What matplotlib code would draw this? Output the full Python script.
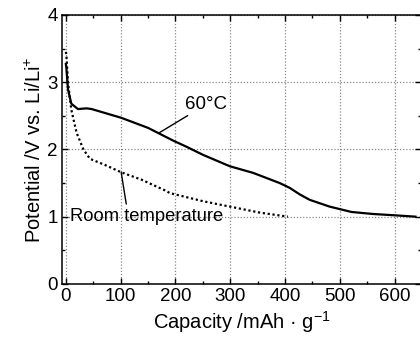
import numpy as np
import matplotlib
matplotlib.use('Agg')
import matplotlib.pyplot as plt
from matplotlib.ticker import MultipleLocator

plt.rcParams['font.family'] = 'Liberation Sans'
plt.rcParams['mathtext.default'] = 'regular'

# 60 C discharge curve
cap_60 = [0, 1, 4, 10, 22, 38, 47, 101, 150, 196, 220, 250, 299, 342, 390, 408, 427, 445, 481, 521, 560, 600, 638]
pot_60 = [3.27, 3.21, 2.89, 2.68, 2.60, 2.61, 2.60, 2.47, 2.32, 2.13, 2.04, 1.92, 1.75, 1.65, 1.50, 1.43, 1.33, 1.25, 1.15, 1.07, 1.04, 1.02, 1.00]

# room temperature discharge curve
cap_rt = [0, 1, 4, 10, 19.5, 32, 44, 71, 101, 138, 181, 190, 250, 299, 354, 405]
pot_rt = [3.45, 3.41, 2.99, 2.59, 2.25, 2.0, 1.86, 1.77, 1.66, 1.55, 1.39, 1.35, 1.23, 1.15, 1.06, 1.00]

fig = plt.figure(figsize=(4.2, 3.38), dpi=100)
ax = fig.add_axes([0.1476, 0.160, 0.8548, 0.796])

ax.plot(cap_60, pot_60, color='k', lw=1.6, zorder=3)
ax.plot(cap_rt, pot_rt, color='k', lw=1.6, linestyle=(0, (1, 1.2)), zorder=3)

ax.set_xlim(-7, 648)
ax.set_ylim(0, 4)
ax.xaxis.set_major_locator(MultipleLocator(100))
ax.xaxis.set_minor_locator(MultipleLocator(50))
ax.yaxis.set_major_locator(MultipleLocator(1))
ax.yaxis.set_minor_locator(MultipleLocator(0.5))
ax.tick_params(which='both', direction='in', top=True, right=True, labelsize=13.5, width=1)
ax.tick_params(which='major', length=4, pad=3)
ax.tick_params(which='minor', length=2.5)
ax.grid(True, which='major', color='#888888', linestyle=(0, (1, 1.5)), lw=0.9)

ax.set_xlabel('Capacity /mAh \u00b7 g$^{-1}$', fontsize=14.5, labelpad=3)
ax.set_ylabel('Potential /V vs. Li/Li$^{+}$', fontsize=14.5, labelpad=2)

ax.annotate('60\u00b0C', xy=(171, 2.25), xytext=(218, 2.67), fontsize=13.5,
            va='center', ha='left',
            arrowprops=dict(arrowstyle='-', color='k', lw=1, shrinkA=0, shrinkB=0))
ax.annotate('Room temperature', xy=(101, 1.66), xytext=(8, 1.0), fontsize=13.2,
            va='center', ha='left',
            arrowprops=dict(arrowstyle='-', color='k', lw=1, shrinkA=1, shrinkB=0,
                            relpos=(0.37, 1.0)))

for s in ax.spines.values():
    s.set_linewidth(1.1)

fig.savefig('out.png', dpi=100)
